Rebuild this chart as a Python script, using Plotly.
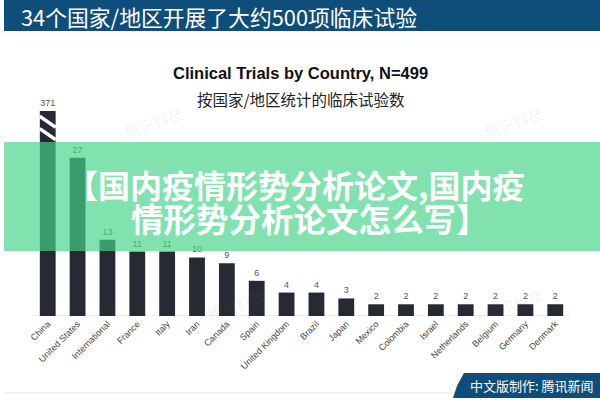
import plotly.graph_objects as go

countries = ["China", "United States", "International", "France", "Italy", "Iran",
             "Canada", "Spain", "United Kingdom", "Brazil", "Japan", "Mexico",
             "Colombia", "Israel", "Netherlands", "Belgium", "Germany", "Denmark"]
trials = [371, 27, 13, 11, 11, 10, 9, 6, 4, 4, 3, 2, 2, 2, 2, 2, 2, 2]
axis_cap = 35  # broken axis: tall bar truncated at this value

header_text = "34个国家/地区开展了大约500项临床试验"
chart_title = "Clinical Trials by Country, N=499"
chart_subtitle = "按国家/地区统计的临床试验数"
banner_line1 = "【国内疫情形势分析论文,国内疫"
banner_line2 = "情形势分析论文怎么写】"
credit_text = "中文版制作: 腾讯新闻"
watermark = "腾讯科技"

W, H = 600, 400
def px(x):
    return x / W
def py(y):
    return 1 - y / H

shown = [min(v, axis_cap) for v in trials]

BAR = "#262b33"
CJK = "Noto Sans CJK SC"

fig = go.Figure()
fig.add_trace(go.Bar(
    x=countries, y=shown, text=[str(v) for v in trials],
    textposition="outside", cliponaxis=False,
    textfont=dict(size=9, color="#555555", family="Liberation Sans"),
    marker=dict(color=BAR, line=dict(width=0)),
    hoverinfo="skip",
))

shapes = []
# top header band
shapes.append(dict(type="rect", xref="paper", yref="paper", x0=0, x1=1,
                   y0=py(31), y1=1, fillcolor="#0f4e7a", line=dict(width=0), layer="above"))
# baseline
shapes.append(dict(type="line", xref="paper", yref="y", x0=px(28), x1=px(571), y0=0, y1=0,
                   line=dict(color="#dddddd", width=1), layer="below"))
# break marks on truncated bar
i_big = trials.index(max(trials))
for off in (0.9, 3.0):
    shapes.append(dict(type="line", xref="x", yref="y",
                       x0=i_big - 0.27, x1=i_big + 0.27,
                       y0=axis_cap - off, y1=axis_cap - off - 1.9,
                       line=dict(color="white", width=3.5), layer="above"))
# green banner overlay
shapes.append(dict(type="rect", xref="paper", yref="paper", x0=0, x1=1,
                   y0=py(251), y1=py(142), fillcolor="rgba(69,212,139,0.68)",
                   line=dict(width=0), layer="above"))
# bottom line and credit tab
shapes.append(dict(type="line", xref="paper", yref="paper", x0=0, x1=px(456),
                   y0=py(393), y1=py(393), line=dict(color="#e4e4e4", width=1), layer="above"))
shapes.append(dict(type="path", xref="paper", yref="paper",
                   path=f"M {px(463)},{py(373)} L 1,{py(373)} L 1,{py(398)} L {px(452)},{py(398)} L {px(456)},{py(386)} Z",
                   fillcolor="#0f4e7a", line=dict(width=0), layer="above"))

annotations = [
    dict(text=header_text, x=px(15), y=py(16), xref="paper", yref="paper",
         xanchor="left", yanchor="middle", showarrow=False,
         font=dict(family=CJK, size=21.8, color="white")),
    dict(text=f"<b>{chart_title}</b>", x=px(298), y=py(73), xref="paper", yref="paper",
         xanchor="center", yanchor="middle", showarrow=False,
         font=dict(family="Liberation Sans", size=16.5, color="#111111")),
    dict(text=chart_subtitle, x=px(299), y=py(99), xref="paper", yref="paper",
         xanchor="center", yanchor="middle", showarrow=False,
         font=dict(family=CJK, size=15.5, color="#222222")),
    dict(text=f"<b>{banner_line1}</b>", x=px(293), y=py(184), xref="paper", yref="paper",
         xanchor="center", yanchor="middle", showarrow=False,
         font=dict(family=CJK, size=32, color="white")),
    dict(text=f"<b>{banner_line2}</b>", x=px(308), y=py(217), xref="paper", yref="paper",
         xanchor="center", yanchor="middle", showarrow=False,
         font=dict(family=CJK, size=32.5, color="white")),
    dict(text=credit_text, x=px(532), y=py(385), xref="paper", yref="paper",
         xanchor="center", yanchor="middle", showarrow=False,
         font=dict(family=CJK, size=13, color="white")),
]
for wx, wy in [(105, 100), (548, 100), (228, 330), (548, 330)]:
    annotations.append(dict(text="◔ " + watermark, x=px(wx), y=py(wy), xref="paper", yref="paper",
                            showarrow=False, textangle=-20,
                            font=dict(family=CJK, size=15, color="rgba(120,120,120,0.10)")))

fig.update_layout(
    width=W, height=H,
    margin=dict(l=0, r=0, t=0, b=0, pad=0),
    paper_bgcolor="white", plot_bgcolor="white",
    showlegend=False, bargap=0.47,
    shapes=shapes, annotations=annotations,
    xaxis=dict(domain=[px(29), px(570)], tickangle=-45, showgrid=False, zeroline=False,
               showline=False, ticks="",
               tickfont=dict(family="Liberation Sans", size=9, color="#444444")),
    yaxis=dict(domain=[py(316), py(111)], range=[0, axis_cap], visible=False,
               showgrid=False, zeroline=False),
)

fig.write_html("out.html", config={"displayModeBar": False, "staticPlot": True},
               post_script="document.body.style.margin='0';document.body.style.padding='0';"
                           "document.documentElement.style.overflow='hidden';")
